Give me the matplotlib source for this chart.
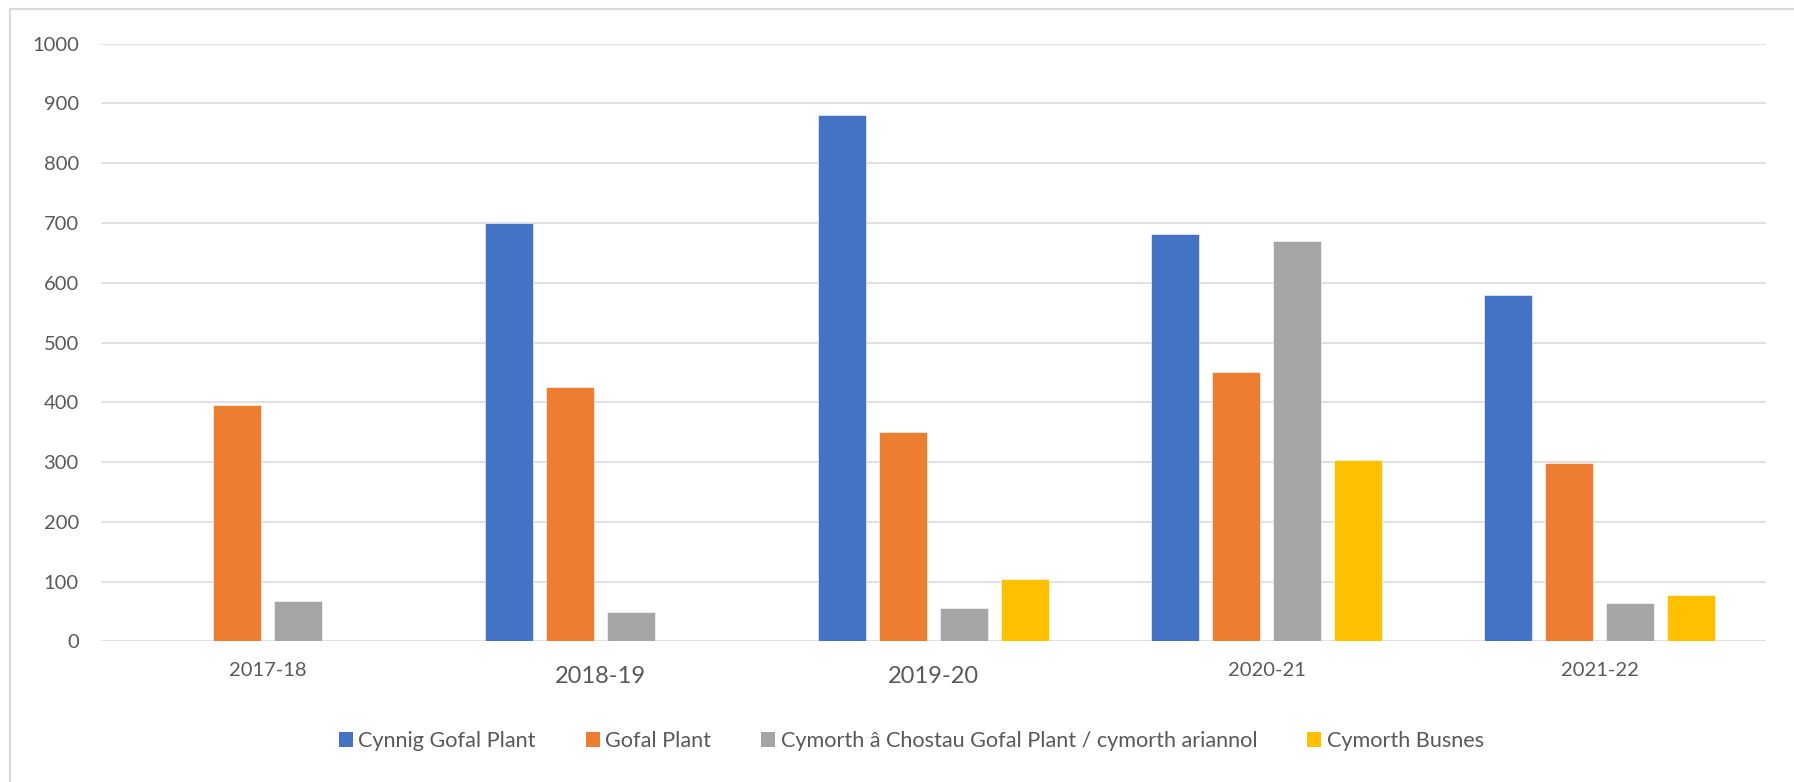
import numpy as np
import matplotlib
matplotlib.use("Agg")
import matplotlib.pyplot as plt
from matplotlib.lines import Line2D
from matplotlib.patches import Patch

plt.rcParams['font.family'] = ['Lato', 'DejaVu Sans']

# data
years = ['2017-18', '2018-19', '2019-20', '2020-21', '2021-22']
cynnig = [0, 700, 880, 681, 580]
gofal = [395, 425, 350, 450, 298]
cymorth_costau = [67, 50, 56, 670, 65]
cymorth_busnes = [0, 0, 105, 303, 78]

series_names = ['Cynnig Gofal Plant', 'Gofal Plant',
                'Cymorth â Chostau Gofal Plant / cymorth ariannol', 'Cymorth Busnes']
series_values = [cynnig, gofal, cymorth_costau, cymorth_busnes]
colors = ['#4472C4', '#ED7D31', '#A5A5A5', '#FFC000']
text_col = '#595959'
grid_col = '#D9D9D9'

fig = plt.figure(figsize=(17.94, 7.82), dpi=100)
ax = fig.add_axes([0.0563, 0.1797, 0.9281, 0.7644])

x = np.arange(len(years))
step = 0.183
width = 0.143
for i, (vals, col) in enumerate(zip(series_values, colors)):
    v = np.array(vals, dtype=float)
    mask = v > 0
    ax.bar(x[mask] + (i - 1.5) * step, v[mask], width=width, color=col,
           edgecolor='white', linewidth=0.4, zorder=3)

ax.set_xlim(-0.5, len(years) - 0.5)
ax.set_ylim(0, 1000)
ax.set_yticks(range(0, 1001, 100))
ax.set_xticks(x)
ax.set_xticklabels(years)

ax.grid(axis='y', color=grid_col, linewidth=1.1, zorder=0)
for s in ax.spines.values():
    s.set_visible(False)
ax.tick_params(axis='y', length=0, pad=16, labelsize=14.5, labelcolor=text_col)
ax.tick_params(axis='x', length=0, pad=15, labelsize=14.5, labelcolor=text_col)

# the 2018-19 and 2019-20 labels are bigger in the original
for lbl in ax.get_xticklabels():
    if lbl.get_text() in ('2018-19', '2019-20'):
        lbl.set_fontsize(17)
        lbl.set_y(-0.006)

handles = [Patch(facecolor=c, edgecolor='none') for c in colors]
fig.legend(handles, series_names, loc='center', bbox_to_anchor=(0.508, 0.0524),
           ncol=4, frameon=False, fontsize=15.6, labelcolor=text_col,
           handlelength=0.65, handleheight=0.65, handletextpad=0.25,
           columnspacing=2.3)

# light chart border (top and left visible)
fig.add_artist(Line2D([10 / 1794, 1], [1 - 9 / 782, 1 - 9 / 782],
                      transform=fig.transFigure, color=grid_col, linewidth=1.5))
fig.add_artist(Line2D([10 / 1794, 10 / 1794], [0, 1 - 9 / 782],
                      transform=fig.transFigure, color=grid_col, linewidth=1.5))

fig.savefig('out.png', dpi=100, facecolor='white')
